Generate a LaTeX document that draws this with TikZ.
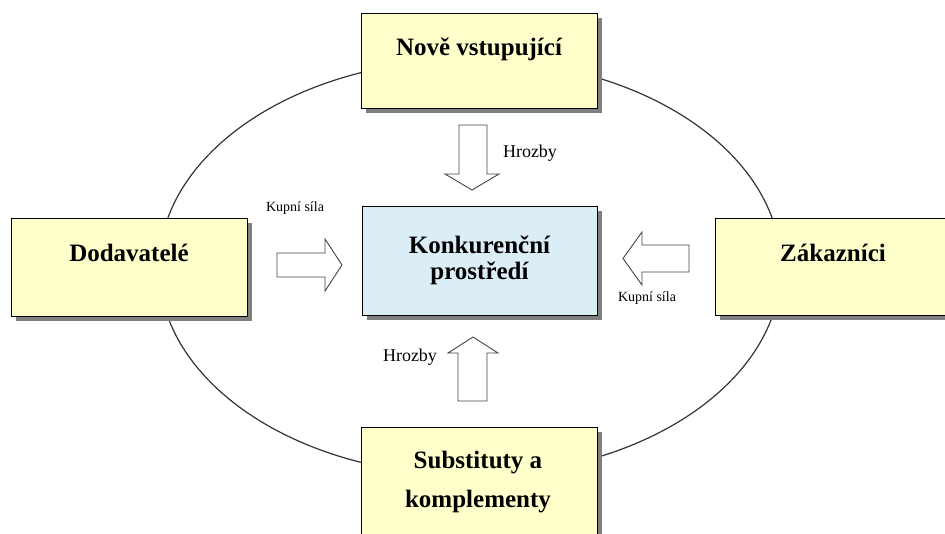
\documentclass[tikz,border=0pt]{standalone}
\usepackage{fontspec}
\setmainfont{Liberation Serif}
\usetikzlibrary{shadows}
\definecolor{boxyellow}{HTML}{FFFFCC}
\definecolor{boxblue}{HTML}{DCEEF5}
\definecolor{ringgray}{HTML}{333333}
\definecolor{arrowgray}{HTML}{444444}
\tikzset{
  forcebox/.style={draw=black, line width=1.3pt, fill=boxyellow, rectangle,
    inner sep=0pt, anchor=north west,
    drop shadow={shadow xshift=4pt, shadow yshift=-4pt, fill=black!50, opacity=1}},
  marketbox/.style={forcebox, fill=boxblue},
  boxtext/.style={font=\fontsize{25}{27}\selectfont\bfseries, anchor=base, inner sep=0pt, align=center},
  blockarrow/.style={draw=arrowgray, line width=0.9pt, fill=white, line join=miter},
  threat/.style={font=\fontsize{18}{20}\selectfont, inner sep=0pt},
  power/.style={font=\fontsize{14}{16}\selectfont, inner sep=0pt},
}
\begin{document}
\begin{tikzpicture}[x=1pt, y=-1pt]
  \useasboundingbox (0,0) rectangle (945,533);
  \clip (0,0) rectangle (945,533);

  % ring joining the four forces
  \draw[ringgray, line width=1.2pt] (470,267.5) ellipse [x radius=311, y radius=208];

  % boxes
  \node[forcebox, minimum width=236pt, minimum height=95pt] (entrants) at (361,13) {};
  \node[forcebox, minimum width=236pt, minimum height=98pt] (suppliers) at (11,218) {};
  \node[forcebox, minimum width=237pt, minimum height=97pt] (customers) at (715,218) {};
  \node[forcebox, minimum width=236pt, minimum height=110pt] (substitutes) at (361,427) {};
  \node[marketbox, minimum width=235pt, minimum height=109pt] (market) at (362,206) {};

  % box captions
  \node[boxtext] (entrantsT) at (479,55) {Nově vstupující};
  \node[boxtext] (suppliersT) at (129,261) {Dodavatelé};
  \node[boxtext] (customersT) at (833,261) {Zákazníci};
  \node[boxtext] (marketT) at (479.5,253) {Konkurenční};
  \node[boxtext] (marketT2) at (479.5,279) {prostředí};
  \node[boxtext] (substitutesT) at (478,468) {Substituty a};
  \node[boxtext] (substitutesT2) at (478,507) {komplementy};

  % block arrows towards the market
  \draw[blockarrow] (459,125) -- (487,125) -- (487,174) -- (499,174) -- (472,190)
    -- (445,174) -- (459,174) -- cycle;
  \draw[blockarrow] (458,401) -- (487,401) -- (487,353) -- (498,353) -- (473,337)
    -- (448,353) -- (458,353) -- cycle;
  \draw[blockarrow] (277,253) -- (325,253) -- (325,239) -- (342,265) -- (325,291)
    -- (325,277) -- (277,277) -- cycle;
  \draw[blockarrow] (689,245) -- (642,245) -- (642,232) -- (623,258.5) -- (642,285)
    -- (642,272) -- (689,272) -- cycle;

  % arrow labels
  \node[threat] (threatTop) at (530,153) {Hrozby};
  \node[threat] (threatBottom) at (410,357) {Hrozby};
  \node[power] (powerLeft) at (295,208) {Kupní síla};
  \node[power] (powerRight) at (647,298) {Kupní síla};
\end{tikzpicture}
\end{document}
